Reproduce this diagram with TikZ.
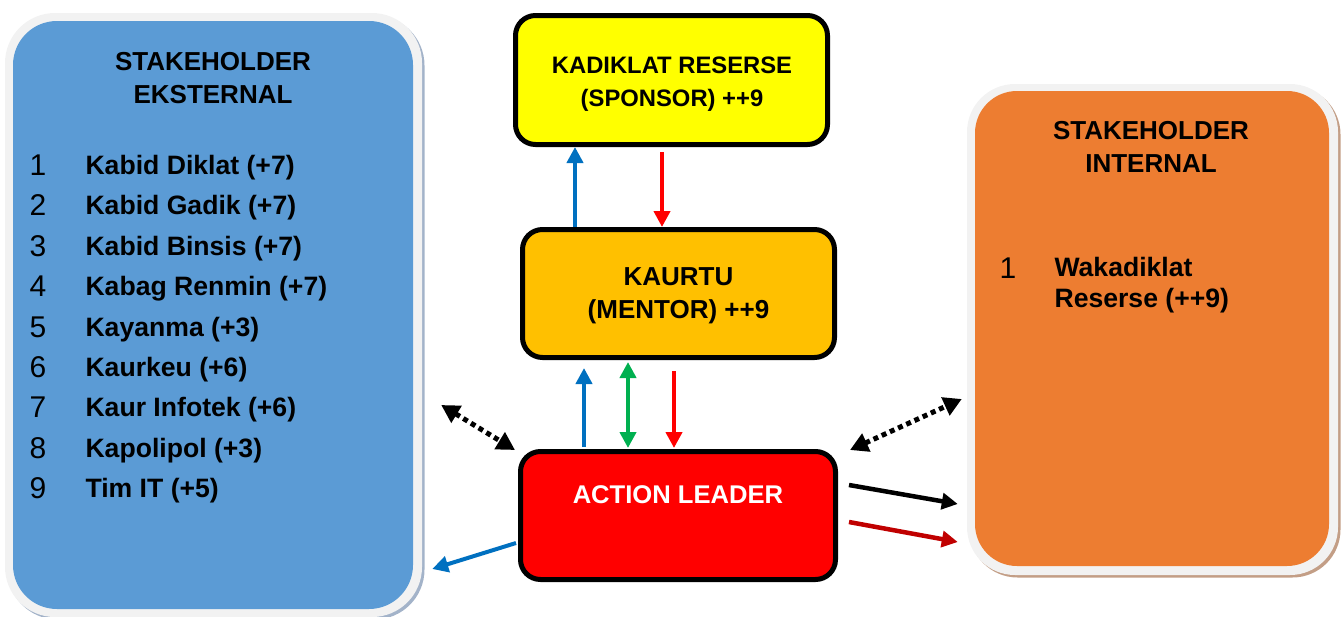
\documentclass[tikz,border=0pt]{standalone}
\usepackage{fontspec}
\setmainfont{Liberation Sans}
\usetikzlibrary{arrows.meta,calc,shadows}

\definecolor{extblue}{HTML}{5B9BD5}
\definecolor{intorange}{HTML}{ED7D31}
\definecolor{sponsoryellow}{HTML}{FFFF00}
\definecolor{mentorgold}{HTML}{FFC000}
\definecolor{leaderred}{HTML}{FF0000}
\definecolor{flowblue}{HTML}{0070C0}
\definecolor{flowgreen}{HTML}{00B050}
\definecolor{flowred}{HTML}{FF0000}
\definecolor{flowdarkred}{HTML}{C00000}
\definecolor{framewhite}{HTML}{F2F2F2}
\definecolor{shadeblue}{HTML}{A3B3C9}
\definecolor{shadetan}{HTML}{C39E86}

\begin{document}
\begin{tikzpicture}[x=1pt,y=-1pt,
  frame/.style={fill=framewhite, rounded corners=#1, inner sep=0pt},
  panel/.style={rounded corners=#1, inner sep=0pt},
  rolebox/.style={draw=black, line width=5pt, rounded corners=20pt, inner sep=0pt},
  roletext/.style={align=center, font=\bfseries\fontsize{#1}{33}\selectfont},
  head/.style={font=\bfseries\fontsize{26}{33}\selectfont, align=center},
  itemnum/.style={anchor=base west, font=\fontsize{30}{30}\selectfont},
  itemtext/.style={anchor=base west, font=\bfseries\fontsize{26.6}{30}\selectfont},
  arr/.style={line width=4pt, -{Triangle[length=16pt,width=16pt]}},
  dblarr/.style={line width=4pt, {Triangle[length=16pt,width=16pt]}-{Triangle[length=16pt,width=16pt]}},
  link/.style={line width=5pt, dash pattern=on 5pt off 4pt,
    {Triangle[length=18pt,width=19pt]}-{Triangle[length=18pt,width=19pt]}},
]
\useasboundingbox (0,0) rectangle (1344,616);

% external stakeholders panel
\node[frame=50pt, minimum width=417pt, minimum height=604pt,
  drop shadow={shadow xshift=2.5pt, shadow yshift=-2.5pt, fill=shadeblue, opacity=1}]
  (extframe) at (213.5,315) {};
\node[panel=44pt, fill=extblue, minimum width=400pt, minimum height=588pt]
  (ext) at (213,315) {};
\node[head] (exthead) at (213,78.5) {STAKEHOLDER\\EKSTERNAL};
\foreach \n/\txt [count=\i from 0] in {1/Kabid Diklat (+7), 2/Kabid Gadik (+7),
    3/Kabid Binsis (+7), 4/Kabag Renmin (+7), 5/Kayanma (+3), 6/Kaurkeu (+6),
    7/Kaur Infotek (+6), 8/Kapolipol (+3), 9/Tim IT (+5)} {
  \node[itemnum] (extnum\n) at (26,{175.5+40.4*\i}) {\n};
  \node[itemtext] (extitem\n) at (82,{174.5+40.4*\i}) {\txt};
}

% internal stakeholders panel
\node[frame=48pt, minimum width=371pt, minimum height=491pt,
  drop shadow={shadow xshift=2.5pt, shadow yshift=-2.5pt, fill=shadetan, opacity=1}]
  (intframe) at (1152.5,329.5) {};
\node[panel=42pt, fill=intorange, minimum width=354pt, minimum height=475pt]
  (int) at (1152,328.5) {};
\node[head] (inthead) at (1151,147) {STAKEHOLDER\\INTERNAL};
\node[itemnum] (intnum1) at (996,278) {1};
\node[itemtext, align=left, font=\bfseries\fontsize{26.6}{31}\selectfont,
  anchor=north west] (intitem1) at (1051,254) {Wakadiklat\\Reserse (++9)};

% role boxes
\node[rolebox, fill=sponsoryellow, minimum width=312pt, minimum height=129pt]
  (sponsor) at (671.5,80) {};
\node[roletext=23.8] (sponsortext) at (672,84) {KADIKLAT RESERSE\\(SPONSOR) ++9};
\node[rolebox, fill=mentorgold, minimum width=312pt, minimum height=128pt]
  (mentor) at (678.5,293.5) {};
\node[roletext=26] (mentortext) at (678.5,295.5) {KAURTU\\(MENTOR) ++9};
\node[rolebox, fill=leaderred, minimum width=315pt, minimum height=128pt]
  (leader) at (678,515.5) {};
\node[roletext=25.6, text=white] (leadertext) at (678,495) {ACTION LEADER};

% vertical reporting lines
\draw[arr, flowblue] (575,0 |- mentor.north) -- (575,0 |- sponsor.south);
\draw[arr, flowred] ($(662,0 |- sponsor.south)+(0,5)$) -- (662,0 |- mentor.north);
\draw[arr, flowblue] ($(584,0 |- leader.north)+(0,-2)$) -- ($(584,0 |- mentor.south)+(0,8)$);
\draw[dblarr, flowgreen] ($(628,0 |- mentor.south)+(0,2)$) -- ($(628,0 |- leader.north)+(0,-1)$);
\draw[arr, flowred] ($(674,0 |- mentor.south)+(0,11)$) -- ($(674,0 |- leader.north)+(0,-1)$);

% links to the stakeholder panels
\coordinate (extlink) at ($(ext.east |- 0,405)+(28,0)$);
\coordinate (intlink) at ($(int.west |- 0,399)+(-13,0)$);
\draw[link] (extlink) -- ($(leader.north west)+(-3,1)$);
\draw[link] ($(leader.north east)+(12,1)$) -- (intlink);
\draw[arr, line width=4.5pt, black] ($(leader.east |- 0,485)+(11,0)$) -- ($(int.west |- 0,504)+(-17,0)$);
\draw[arr, line width=4.5pt, flowdarkred] ($(leader.east |- 0,522)+(11,0)$) -- ($(int.west |- 0,542)+(-17,0)$);
\draw[arr, flowblue] ($(leader.west |- 0,543)+(-2,0)$) -- ($(ext.east |- 0,569)+(19,0)$);
\end{tikzpicture}
\end{document}
